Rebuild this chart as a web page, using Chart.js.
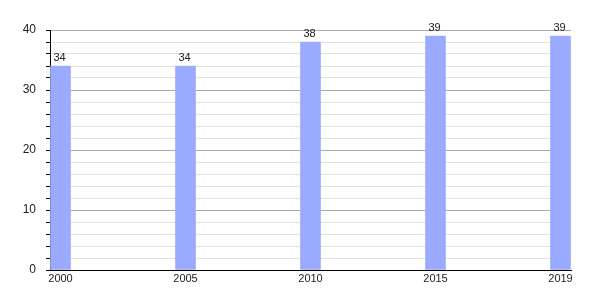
<!DOCTYPE html>
<html>
<head>
<meta charset="utf-8">
<script src="https://cdn.jsdelivr.net/npm/chart.js@4/dist/chart.umd.min.js"></script>
<style>
  html, body { margin: 0; padding: 0; background: #fff; }
  #wrap { width: 600px; height: 300px; }
</style>
</head>
<body>
<div id="wrap"><canvas id="chart"></canvas></div>
<script>
// data
const years = ['2000', '2005', '2010', '2015', '2019'];
const values = [34, 34, 38, 39, 39];
const yTickLabels = [0, 10, 20, 30, 40];

const FONT = '"Liberation Sans", Arial, sans-serif';

// value labels above each bar
const valueLabels = {
  id: 'valueLabels',
  afterDatasetsDraw(chart) {
    const ctx = chart.ctx;
    const meta = chart.getDatasetMeta(0);
    ctx.save();
    ctx.font = '11px ' + FONT;
    ctx.fillStyle = '#222';
    ctx.textAlign = 'center';
    ctx.textBaseline = 'bottom';
    meta.data.forEach((bar, i) => {
      ctx.fillText(String(values[i]), bar.x - 1, bar.y - 3);
    });
    ctx.restore();
  }
};

new Chart(document.getElementById('chart'), {
  type: 'bar',
  data: {
    datasets: [{
      data: values.map((v, i) => ({ x: i, y: v })),
      backgroundColor: '#9aabff',
      borderWidth: 0,
      barThickness: 20
    }]
  },
  options: {
    responsive: true,
    maintainAspectRatio: false,
    animation: false,
    layout: { padding: { top: 30, right: 29, left: 0, bottom: 0 } },
    plugins: {
      legend: { display: false },
      tooltip: { enabled: false }
    },
    scales: {
      x: {
        type: 'linear',
        offset: false,
        min: -0.084,
        max: 4.084,
        afterBuildTicks: (axis) => {
          axis.ticks = years.map((y, i) => ({ value: i }));
        },
        afterFit: (axis) => { axis.height = 30; },
        grid: { display: false, drawTicks: false },
        border: { display: true, color: '#000', width: 1 },
        ticks: {
          autoSkip: false,
          maxRotation: 0,
          padding: 2,
          color: '#222',
          font: { family: FONT, size: 11 },
          callback: (v) => years[v] !== undefined ? years[v] : ''
        }
      },
      y: {
        min: 0,
        max: 40,
        afterBuildTicks: (axis) => {
          const t = [];
          for (let v = 0; v <= 40; v += 2) t.push({ value: v });
          axis.ticks = t;
        },
        afterFit: (axis) => { axis.width = 50; },
        grid: {
          color: (c) => (c.tick && c.tick.value % 10 === 0) ? '#aaaaaa' : '#e2e2e2',
          tickColor: '#000',
          tickLength: 4,
          drawTicks: true
        },
        border: { display: true, color: '#000', width: 1 },
        ticks: {
          autoSkip: false,
          padding: 10,
          color: '#222',
          font: { family: FONT, size: 12 },
          callback: (v) => yTickLabels.includes(v) ? String(v) : ''
        }
      }
    }
  },
  plugins: [valueLabels]
});
</script>
</body>
</html>
